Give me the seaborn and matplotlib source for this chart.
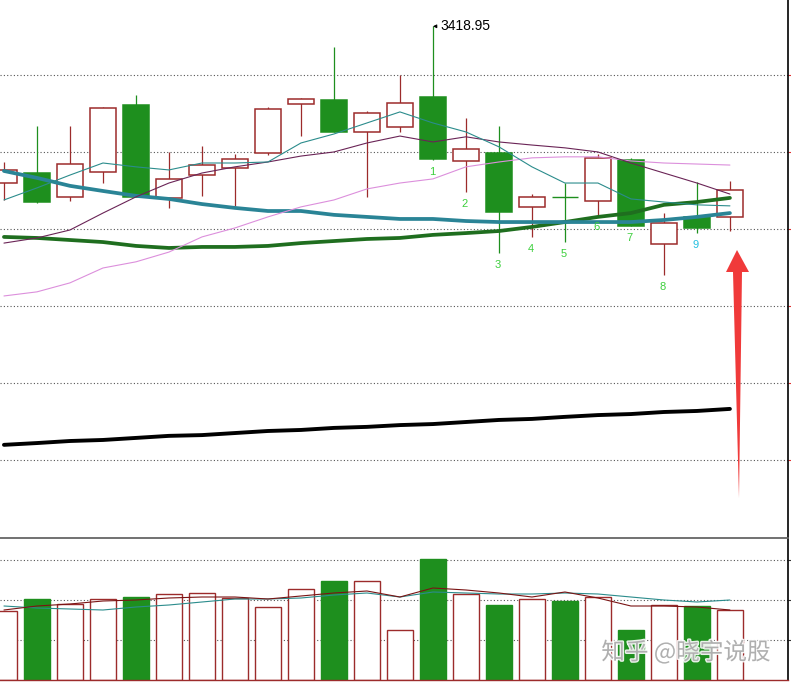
import numpy as np
import pandas as pd
import matplotlib
matplotlib.use("Agg")
import matplotlib.pyplot as plt
import matplotlib.patheffects as pe
from matplotlib.patches import Polygon
import seaborn as sns

# OHLC (index price)
opens = [3357.9, 3361.8, 3352.5, 3362.2, 3388.3, 3352.1, 3361.0, 3363.8, 3369.6, 3388.7, 3390.3, 3377.8,
         3379.7, 3391.4, 3366.5, 3369.6, 3348.6, 3352.5, 3350.9, 3366.9, 3334.2, 3344.7, 3344.7]
highs = [3366.1, 3380.1, 3380.1, 3387.5, 3392.2, 3370.0, 3372.3, 3369.2, 3387.5, 3391.0, 3410.9, 3386.0,
         3400.0, 3418.95, 3383.2, 3380.1, 3353.6, 3357.9, 3369.2, 3367.7, 3346.2, 3358.3, 3358.7]
lows = [3351.3, 3350.1, 3350.9, 3357.9, 3352.5, 3348.2, 3352.9, 3349.0, 3368.8, 3376.2, 3377.8, 3352.5,
        3377.8, 3366.9, 3354.4, 3330.7, 3336.9, 3334.9, 3345.5, 3341.2, 3322.1, 3338.4, 3339.2]
closes = [3363.0, 3350.5, 3365.3, 3387.1, 3352.5, 3359.5, 3364.9, 3367.3, 3386.8, 3390.6, 3377.8, 3385.2,
          3389.1, 3367.3, 3371.2, 3346.6, 3352.5, 3352.5, 3367.7, 3341.2, 3342.3, 3340.4, 3355.2]

# moving averages as drawn
ma5 = [3351.3, 3356.0, 3361.0, 3365.7, 3364.2, 3363.0, 3365.7, 3365.7, 3366.1, 3373.5, 3377.0, 3381.3,
       3385.6, 3381.3, 3377.8, 3372.0, 3364.2, 3357.9, 3357.9, 3351.7, 3350.5, 3349.4, 3349.0]
ma10 = [3334.5, 3336.5, 3339.6, 3346.2, 3352.5, 3357.9, 3361.8, 3364.2, 3366.1, 3368.4, 3370.0, 3373.5,
        3376.2, 3373.9, 3375.9, 3373.9, 3372.7, 3371.6, 3370.0, 3365.7, 3361.8, 3357.9, 3353.6]
ma20 = [3313.9, 3315.5, 3319.0, 3324.8, 3327.2, 3331.0, 3336.9, 3340.4, 3344.7, 3348.6, 3351.3, 3355.6,
        3357.9, 3359.5, 3364.2, 3366.1, 3367.7, 3368.1, 3368.1, 3366.5, 3365.7, 3365.3, 3364.9]
ma60 = [3362.6, 3359.9, 3356.8, 3354.8, 3352.9, 3351.7, 3349.7, 3348.2, 3347.0, 3347.0, 3345.5, 3344.7,
        3343.9, 3343.9, 3343.1, 3342.7, 3342.7, 3342.7, 3342.7, 3342.7, 3343.5, 3344.7, 3346.2]
ma120 = [3336.9, 3336.5, 3335.7, 3334.9, 3333.4, 3332.6, 3333.0, 3333.0, 3333.4, 3334.5, 3335.3, 3336.1,
         3336.5, 3337.7, 3338.4, 3339.2, 3340.8, 3342.7, 3344.7, 3346.2, 3349.4, 3350.5, 3352.1]
ma250 = [3255.9, 3256.6, 3257.4, 3257.8, 3258.6, 3259.4, 3259.7, 3260.5, 3261.3, 3261.7, 3262.5, 3262.9,
         3263.6, 3264.0, 3264.8, 3265.6, 3266.0, 3266.8, 3267.5, 3267.9, 3268.7, 3269.1, 3269.9]

volume = [345, 405, 380, 405, 415, 430, 435, 410, 365, 455, 495, 495, 250, 605, 430, 375, 405, 395, 415,
          250, 375, 370, 350]
vol_ma5 = [350, 370, 380, 395, 400, 410, 415, 415, 405, 420, 435, 445, 415, 460, 450, 435, 415, 440, 410,
           370, 370, 365, 350]
vol_ma10 = [370, 360, 355, 350, 365, 375, 390, 405, 405, 410, 425, 435, 415, 440, 435, 430, 430, 435, 430,
            415, 400, 390, 400]

marks = ["1", "2", "3", "4", "5", "6", "7", "8", "9"]
mark_start = 13
price_ticks = [3250, 3280, 3310, 3340, 3370, 3400]
vol_ticks = [200, 400, 600]

UP = "#9c2b2b"
DOWN = "#1e8f1e"

df = pd.DataFrame({"i": np.arange(len(opens)), "o": opens, "h": highs, "l": lows, "c": closes,
                   "ma5": ma5, "ma10": ma10, "ma20": ma20, "ma60": ma60, "ma120": ma120, "ma250": ma250,
                   "vol": volume, "vma5": vol_ma5, "vma10": vol_ma10})
df["up"] = df["c"] > df["o"]

sns.set_style("white")
plt.rcParams["font.family"] = ["Liberation Sans", "DejaVu Sans"]

W, H = 791, 685
fig = plt.figure(figsize=(W / 100, H / 100), dpi=100)
ax = fig.add_axes([0, 148 / H, 788 / W, 537 / H])
axv = fig.add_axes([0, 5 / H, 788 / W, 142 / H])

# ---- candles
for _, r in df.iterrows():
    col = UP if r["up"] else DOWN
    ax.vlines(r["i"], r["l"], r["h"], color=col, lw=0.9, zorder=1)
    if r["o"] == r["c"]:
        ax.hlines(r["o"], r["i"] - 0.4, r["i"] + 0.4, color=col, lw=1.0, zorder=2)
        continue
    lo, hi = min(r["o"], r["c"]), max(r["o"], r["c"])
    ax.bar(r["i"], hi - lo, bottom=lo, width=0.8,
           facecolor="white" if r["up"] else DOWN, edgecolor=col, lw=1.1, zorder=2)

# ---- moving averages
lines = [("ma250", "black", 2.8), ("ma120", "#1f6e1f", 2.7), ("ma60", "#2a8496", 2.7),
         ("ma20", "#dc8fdc", 0.8), ("ma10", "#6a2456", 0.8), ("ma5", "#2b8c8c", 0.8)]
for name, col, lw in lines:
    sns.lineplot(data=df, x="i", y=name, ax=ax, color=col, lw=lw, legend=False, zorder=3)

# peak label
ax.annotate("3418.95", xy=(df["i"][13], df["h"][13]), xytext=(7, 0), textcoords="offset pixels",
            va="center", ha="left", fontsize=10, color="black",
            arrowprops=dict(arrowstyle="-|>", color="black", lw=0.7, mutation_scale=5,
                            shrinkA=0, shrinkB=0))

# count labels under lows
for k, m in enumerate(marks):
    j = mark_start + k
    ax.annotate(m, xy=(j, df["l"][j]), xytext=(-1, -12), textcoords="offset pixels",
                ha="center", va="center", fontsize=8, zorder=4,
                color="#22bfe0" if m == "9" else "#3ccf3c")

ax.set_xlim(-0.12, 23.76)
ax.set_ylim(3220.0, 3429.2)
ax.set_yticks(price_ticks)
ax.grid(axis="y", color="#555555", ls=(0, (1, 2)), lw=0.8)
ax.grid(axis="x", visible=False)
ax.set_xticks([])
ax.yaxis.tick_right()
ax.tick_params(axis="y", length=2, color="#e03030", labelright=False)
for s in ["top", "left", "bottom"]:
    ax.spines[s].set_visible(False)
ax.spines["right"].set_color("black")
ax.spines["right"].set_linewidth(1.2)
ax.set_xlabel("")
ax.set_ylabel("")

# ---- volume
for _, r in df.iterrows():
    col = UP if r["up"] else DOWN
    axv.bar(r["i"], r["vol"], width=0.8, facecolor="white" if r["up"] else DOWN,
            edgecolor=col, lw=1.0, zorder=2)
sns.lineplot(data=df, x="i", y="vma10", ax=axv, color="#2b8c8c", lw=0.8, legend=False, zorder=3)
sns.lineplot(data=df, x="i", y="vma5", ax=axv, color="#7a1414", lw=0.8, legend=False, zorder=3)

axv.set_xlim(-0.12, 23.76)
axv.set_ylim(0, 710)
axv.set_yticks(vol_ticks)
axv.grid(axis="y", color="#555555", ls=(0, (1, 2)), lw=0.8)
axv.set_xticks([])
axv.yaxis.tick_right()
axv.tick_params(axis="y", length=2, color="#333333", labelright=False)
axv.spines["left"].set_visible(False)
axv.spines["top"].set_color("#666666")
axv.spines["top"].set_linewidth(1.3)
axv.spines["right"].set_color("black")
axv.spines["right"].set_linewidth(1.2)
axv.spines["bottom"].set_color(UP)
axv.spines["bottom"].set_linewidth(1.0)
axv.set_xlabel("")
axv.set_ylabel("")

# ---- red arrow marker (figure pixels, y from top)
arrow_px = [(737, 250), (749, 272), (742, 272), (739, 498), (733, 272), (726, 272)]
arrow = Polygon([(x / W, 1 - y / H) for x, y in arrow_px], closed=True,
                transform=fig.transFigure, facecolor="#f03a3a", edgecolor="none", zorder=10)
fig.patches.append(arrow)

# watermark
fig.text(686 / W, 1 - 652 / H, "知乎 @晓宇说股", ha="center", va="center", fontsize=17,
         color="#a8a8a8", alpha=0.9, family=["Noto Sans CJK SC", "DejaVu Sans"],
         path_effects=[pe.withStroke(linewidth=2, foreground="white")], zorder=11)

fig.savefig("out.png", dpi=100)
